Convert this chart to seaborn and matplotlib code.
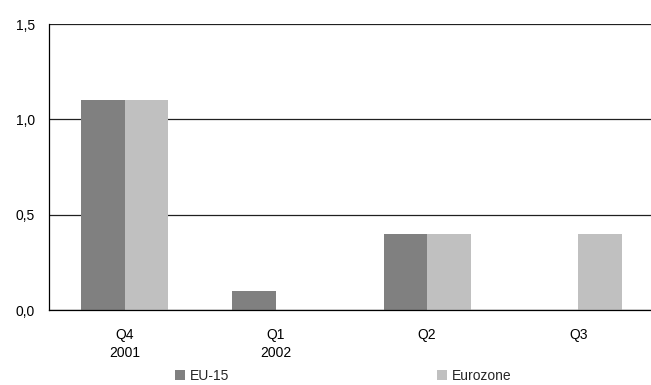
import numpy as np
import pandas as pd
import seaborn as sns
import matplotlib
matplotlib.use("Agg")
from matplotlib import pyplot as plt
from matplotlib.ticker import FuncFormatter

sns.set_theme(style="white")
plt.rcParams['font.family'] = ['Liberation Sans', 'DejaVu Sans']

quarters = ['Q4\n2001', 'Q1\n2002', 'Q2', 'Q3']
eu15 = [1.1, 0.1, 0.4, 0.0]
eurozone = [1.1, 0.0, 0.4, 0.4]

df = pd.DataFrame({
    'Quarter': quarters * 2,
    'Value': eu15 + eurozone,
    'Series': ['EU-15'] * 4 + ['Eurozone'] * 4,
})

fig = plt.figure(figsize=(6.51, 3.85), dpi=100)
# plot area runs a little past the right edge in the original
ax = fig.add_axes([49 / 651, 1 - 310 / 385, 605 / 651, 286 / 385])

sns.barplot(data=df, x='Quarter', y='Value', hue='Series',
            palette=['#808080', '#c0c0c0'], width=0.575, saturation=1,
            linewidth=0, ax=ax, legend=True)

ax.set_ylim(0, 1.5)
ax.set_yticks([0, 0.5, 1.0, 1.5])
ax.yaxis.set_major_formatter(FuncFormatter(lambda v, p: f"{v:.1f}".replace('.', ',')))
ax.yaxis.grid(True, color='#202020', linewidth=0.9)
ax.set_axisbelow(True)
ax.set_xlabel('')
ax.set_ylabel('')
ax.tick_params(axis='both', length=0, labelsize=10, colors='black')
ax.tick_params(axis='y', pad=10)
ax.tick_params(axis='x', pad=13)
for lbl in ax.get_xticklabels():
    lbl.set_linespacing(1.4)
    lbl.set_verticalalignment('top')

for s in ['top', 'right']:
    ax.spines[s].set_visible(False)
for s in ['left', 'bottom']:
    ax.spines[s].set_color('black')
    ax.spines[s].set_linewidth(0.9)

handles, labels = ax.get_legend_handles_labels()
ax.get_legend().remove()
fig.legend(handles, labels, loc='center left', bbox_to_anchor=(175 / 651, 1 - 376 / 385),
           ncol=2, frameon=False, fontsize=10, handlelength=0.7, handleheight=0.7,
           handletextpad=0.35, columnspacing=15, borderpad=0, borderaxespad=0)

fig.savefig('out.png', dpi=100)
